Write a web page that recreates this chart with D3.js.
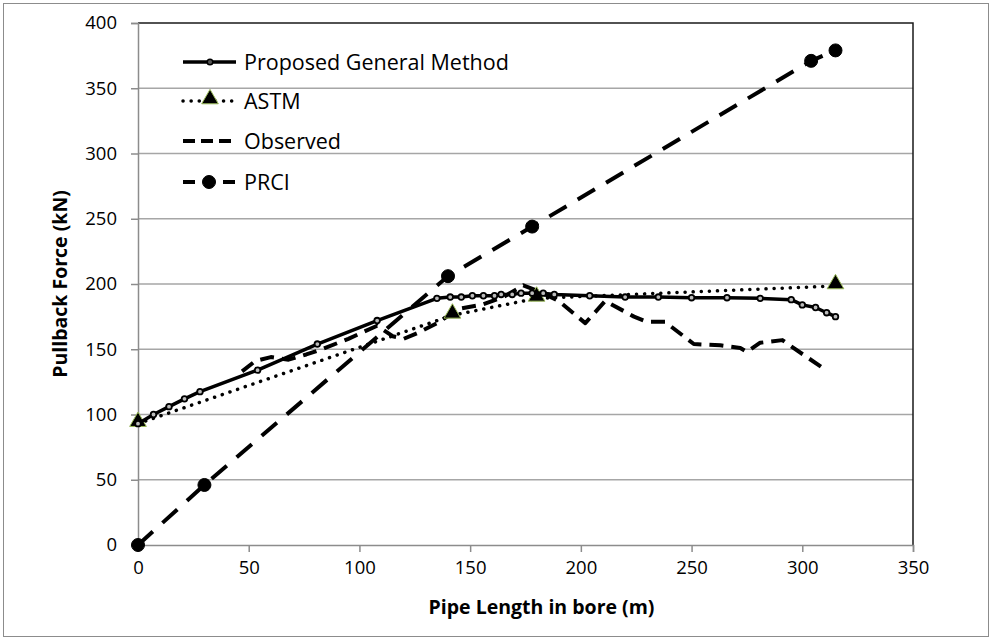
<!DOCTYPE html>
<html>
<head>
<meta charset="utf-8">
<script src="https://cdn.jsdelivr.net/npm/d3@7"></script>
<style>
  body { margin: 0; background: #fff; }
  text { font-family: "Open Sans", Lato, sans-serif; fill: #000; }
</style>
</head>
<body>
<div id="chart"></div>
<script>
// series (x = pipe length in bore, m; y = pullback force, kN)
var proposedX = [0, 7, 14, 21, 28, 54, 81, 108, 135, 141, 146, 151, 156, 161, 164, 169, 173, 178, 183, 188, 204, 220, 235, 250, 266, 281, 295, 300, 306, 311, 315];
var proposedY = [93, 100, 106, 112, 117.5, 134, 154, 172, 189, 190, 190, 191, 191, 191, 192, 192, 193, 193, 193, 192, 191, 190, 190, 189.5, 189.5, 189, 188, 184, 182, 178, 175];

var astmX = [0, 142, 180, 315];
var astmY = [93, 176, 189, 198.5];

var observedX = [47, 53, 60, 68, 76, 83, 95, 108, 115, 120, 127, 135, 145, 155, 165, 174, 180, 190, 202, 211, 224, 230, 238, 251, 263, 272, 275, 281, 291, 296, 309];
var observedY = [133, 141, 144, 142, 146, 150, 158, 168, 160, 158, 163, 170, 181, 184, 190, 199, 195, 187, 170, 187, 175, 171, 171, 154, 153, 151, 148, 155, 157, 151, 136];

var prciX = [0, 30, 140, 178, 304, 315];
var prciY = [0, 46, 206, 244, 371, 379];

var xTicks = [0, 50, 100, 150, 200, 250, 300, 350];
var yTicks = [0, 50, 100, 150, 200, 250, 300, 350, 400];

var seriesNames = ["Proposed General Method", "ASTM", "Observed", "PRCI"];

var W = 992, H = 640;
var m = { left: 138, top: 23, right: 913, bottom: 545 };

var svg = d3.select("#chart").append("svg")
	.attr("width", W)
	.attr("height", H);

// chart border
svg.append("rect")
	.attr("x", 3.5).attr("y", 3.5)
	.attr("width", W - 7).attr("height", H - 7)
	.attr("fill", "none").attr("stroke", "#8c8c8c").attr("stroke-width", 1);

var x = d3.scaleLinear().domain([0, 350]).range([m.left, m.right]);
var y = d3.scaleLinear().domain([0, 400]).range([m.bottom, m.top]);

// gridlines
svg.append("g").selectAll("line")
	.data(yTicks.filter(function(d) { return d > 0 && d < 400; }))
	.enter().append("line")
	.attr("x1", m.left).attr("x2", m.right)
	.attr("y1", function(d) { return y(d); })
	.attr("y2", function(d) { return y(d); })
	.attr("stroke", "#a6a6a6").attr("stroke-width", 1.5);

// plot frame: top and right dark
svg.append("path")
	.attr("d", "M" + m.left + "," + m.top + "H" + m.right + "V" + m.bottom)
	.attr("fill", "none").attr("stroke", "#1a1a1a").attr("stroke-width", 1.5);

// axes
var xAxis = svg.append("g")
	.attr("transform", "translate(0," + m.bottom + ")")
	.call(d3.axisBottom(x).tickValues(xTicks).tickSize(7).tickPadding(9));
var yAxis = svg.append("g")
	.attr("transform", "translate(" + m.left + ",0)")
	.call(d3.axisLeft(y).tickValues(yTicks).tickSize(7).tickPadding(14));
[xAxis, yAxis].forEach(function(a) {
	a.select(".domain").attr("stroke", "#8c8c8c").attr("stroke-width", 1.5);
	a.selectAll(".tick line").attr("stroke", "#8c8c8c").attr("stroke-width", 1.5);
	a.selectAll(".tick text").attr("font-size", 18.5).attr("font-family", "'Open Sans', sans-serif").attr("fill", "#000");
});

// axis titles
svg.append("text")
	.attr("x", x(175) + 16).attr("y", 614)
	.attr("text-anchor", "middle")
	.attr("font-size", 19.5).attr("font-weight", "bold")
	.text("Pipe Length in bore (m)");
svg.append("text")
	.attr("transform", "translate(67," + y(200) + ") rotate(-90)")
	.attr("text-anchor", "middle")
	.attr("font-size", 19.5).attr("font-weight", "bold")
	.text("Pullback Force (kN)");

function pts(xs, ys) {
	return xs.map(function(d, i) { return [d, ys[i]]; });
}
var line = d3.line()
	.x(function(d) { return x(d[0]); })
	.y(function(d) { return y(d[1]); });

var styles = {
	proposed: { w: 3.5, dash: null, cap: "butt" },
	astm: { w: 3.5, dash: "0.1,8", cap: "round" },
	observed: { w: 4, dash: "14,8", cap: "butt" },
	prci: { w: 4, dash: "20,13", cap: "butt" }
};

function drawLine(data, s) {
	svg.append("path")
		.datum(data)
		.attr("d", line)
		.attr("fill", "none")
		.attr("stroke", "#000")
		.attr("stroke-width", s.w)
		.attr("stroke-linecap", s.cap)
		.attr("stroke-linejoin", "round")
		.attr("stroke-dasharray", s.dash);
}

var triangle = d3.symbol().type(d3.symbolTriangle).size(120);

function circleMarkers(data, r, fill, sw) {
	svg.append("g").selectAll("circle")
		.data(data).enter().append("circle")
		.attr("cx", function(d) { return x(d[0]); })
		.attr("cy", function(d) { return y(d[1]); })
		.attr("r", r)
		.attr("fill", fill)
		.attr("stroke", "#000")
		.attr("stroke-width", sw);
}

var proposed = pts(proposedX, proposedY);
var astm = pts(astmX, astmY);
var observed = pts(observedX, observedY);
var prci = pts(prciX, prciY);

drawLine(observed, styles.observed);
drawLine(astm, styles.astm);
svg.append("g").selectAll("path")
	.data(astm).enter().append("path")
	.attr("d", triangle)
	.attr("transform", function(d) { return "translate(" + x(d[0]) + "," + (y(d[1]) - 2) + ")"; })
	.attr("fill", "#000").attr("stroke", "#9bbb59").attr("stroke-width", 1);
drawLine(proposed, styles.proposed);
circleMarkers(proposed, 2.8, "#bbb", 1.8);
drawLine(prci, styles.prci);
circleMarkers(prci, 6.5, "#000", 1);

// legend
var legY = [62, 101, 141, 182];
var lg = svg.append("g");
var keys = ["proposed", "astm", "observed", "prci"];
keys.forEach(function(k, i) {
	var yy = legY[i];
	lg.append("line")
		.attr("x1", 183).attr("x2", 236).attr("y1", yy).attr("y2", yy)
		.attr("stroke", "#000")
		.attr("stroke-width", styles[k].w)
		.attr("stroke-linecap", styles[k].cap)
		.attr("stroke-dasharray", k === "prci" ? "12,8" : (k === "observed" ? "12,6" : styles[k].dash));
	if (k === "proposed") {
		lg.append("circle").attr("cx", 210).attr("cy", yy).attr("r", 2.8)
			.attr("fill", "#555").attr("stroke", "#000").attr("stroke-width", 1.5);
	} else if (k === "astm") {
		lg.append("path").attr("d", triangle)
			.attr("transform", "translate(210," + (yy - 2) + ")")
			.attr("fill", "#000").attr("stroke", "#9bbb59").attr("stroke-width", 1);
	} else if (k === "prci") {
		lg.append("circle").attr("cx", 209).attr("cy", yy).attr("r", 6.5)
			.attr("fill", "#000").attr("stroke", "#000").attr("stroke-width", 1);
	}
	lg.append("text")
		.attr("x", 244).attr("y", yy)
		.attr("dy", "0.35em")
		.attr("font-size", 21.5)
		.text(seriesNames[i]);
});
</script>
</body>
</html>
